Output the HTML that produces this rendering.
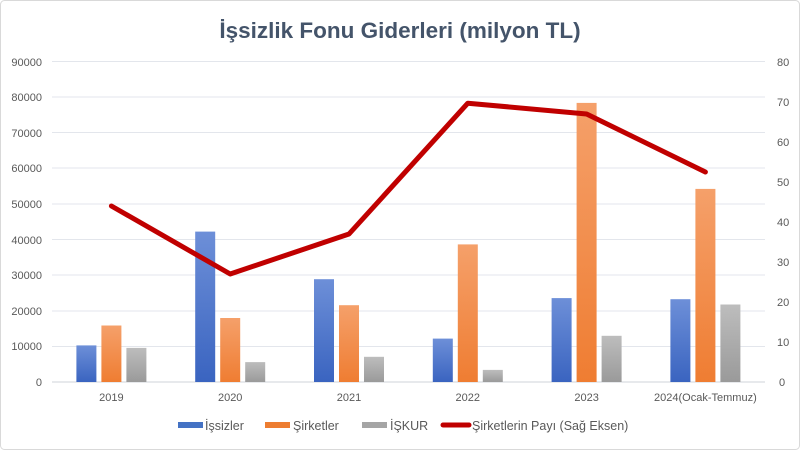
<!DOCTYPE html>
<html><head><meta charset="utf-8"><style>
html,body{margin:0;padding:0;background:#fff}
svg{display:block;font-family:"Liberation Sans",sans-serif}
</style></head><body>
<svg width="800" height="450" viewBox="0 0 800 450">
<defs>
<linearGradient id="gb" x1="0" y1="0" x2="0" y2="1"><stop offset="0" stop-color="#6d8fd8"/><stop offset="1" stop-color="#3a64c0"/></linearGradient>
<linearGradient id="go" x1="0" y1="0" x2="0" y2="1"><stop offset="0" stop-color="#f5a06a"/><stop offset="1" stop-color="#ef7d32"/></linearGradient>
<linearGradient id="gg" x1="0" y1="0" x2="0" y2="1"><stop offset="0" stop-color="#bdbdbd"/><stop offset="1" stop-color="#9a9a9a"/></linearGradient>
</defs>
<rect x="0.5" y="0.5" width="799" height="449" rx="4" fill="#fff" stroke="#d9d9d9"/>
<text x="400" y="38" text-anchor="middle" font-size="22.5" font-weight="bold" fill="#44546a">İşsizlik Fonu Giderleri (milyon TL)</text>
<g stroke="#e3e6ec" stroke-width="1">
<line x1="52" x2="765" y1="61.5" y2="61.5"/><line x1="52" x2="765" y1="97" y2="97"/><line x1="52" x2="765" y1="132.5" y2="132.5"/><line x1="52" x2="765" y1="168" y2="168"/><line x1="52" x2="765" y1="204" y2="204"/><line x1="52" x2="765" y1="239.5" y2="239.5"/><line x1="52" x2="765" y1="275" y2="275"/><line x1="52" x2="765" y1="311" y2="311"/><line x1="52" x2="765" y1="346.5" y2="346.5"/>
</g>
<line x1="52" x2="765" y1="382" y2="382" stroke="#cfd3da"/>
<g font-size="11" fill="#595959" text-anchor="end">
<text x="42" y="66">90000</text><text x="42" y="101">80000</text><text x="42" y="137">70000</text><text x="42" y="172">60000</text><text x="42" y="208">50000</text><text x="42" y="244">40000</text><text x="42" y="279">30000</text><text x="42" y="315">20000</text><text x="42" y="350">10000</text><text x="42" y="386">0</text>
</g>
<g font-size="11" fill="#595959" text-anchor="start">
<text x="777" y="66">80</text><text x="777" y="106">70</text><text x="777" y="146">60</text><text x="777" y="186">50</text><text x="777" y="226">40</text><text x="777" y="266">30</text><text x="777" y="306">20</text><text x="777" y="346">10</text><text x="779" y="386">0</text>
</g>
<g font-size="11" fill="#595959" text-anchor="middle">
<text x="111.4" y="401">2019</text><text x="230.2" y="401">2020</text><text x="349" y="401">2021</text><text x="467.8" y="401">2022</text><text x="586.6" y="401">2023</text><text x="705.4" y="401">2024(Ocak-Temmuz)</text>
</g>
<g fill="url(#gb)">
<rect x="76.4" y="345.4" width="20" height="36.6"/><rect x="195.2" y="231.6" width="20" height="150.4"/><rect x="314" y="279.2" width="20" height="102.8"/><rect x="432.8" y="338.6" width="20" height="43.4"/><rect x="551.6" y="298.1" width="20" height="83.9"/><rect x="670.4" y="299.2" width="20" height="82.8"/>
</g>
<g fill="url(#go)">
<rect x="101.4" y="325.5" width="20" height="56.5"/><rect x="220.2" y="318" width="20" height="64"/><rect x="339" y="305.2" width="20" height="76.8"/><rect x="457.8" y="244.4" width="20" height="137.6"/><rect x="576.6" y="102.9" width="20" height="279.1"/><rect x="695.4" y="188.9" width="20" height="193.1"/>
</g>
<g fill="url(#gg)">
<rect x="126.4" y="347.9" width="20" height="34.1"/><rect x="245.2" y="362.1" width="20" height="19.9"/><rect x="364" y="356.8" width="20" height="25.2"/><rect x="482.8" y="369.9" width="20" height="12.1"/><rect x="601.6" y="335.8" width="20" height="46.2"/><rect x="720.4" y="304.5" width="20" height="77.5"/>
</g>
<polyline points="111.4,206 230.2,274 349,234 467.8,103.2 586.6,114 705.4,172" fill="none" stroke="#c00000" stroke-width="5" stroke-linejoin="round" stroke-linecap="round"/>
<g font-size="12.5" fill="#595959">
<rect x="178" y="422" width="25" height="6" fill="#4472c4"/><text x="205" y="430">İşsizler</text>
<rect x="265" y="422" width="25" height="6" fill="#ed7d31"/><text x="293" y="430">Şirketler</text>
<rect x="362" y="422" width="25" height="6" fill="#a5a5a5"/><text x="390" y="430">İŞKUR</text>
<line x1="443" x2="469" y1="425" y2="425" stroke="#c00000" stroke-width="5" stroke-linecap="round"/><text x="472" y="430">Şirketlerin Payı (Sağ Eksen)</text>
</g>
</svg>
</body></html>
